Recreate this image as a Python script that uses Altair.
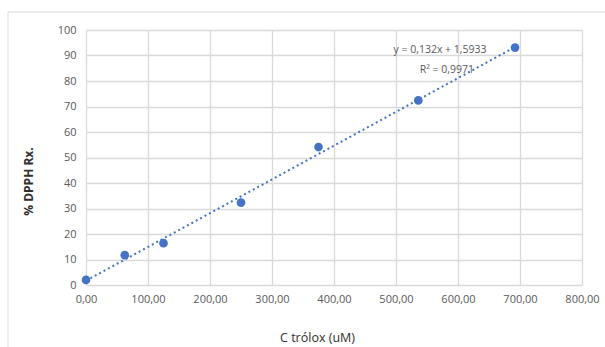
import altair as alt
import pandas as pd

# Data
c_trolox = [0.0, 62.5, 125.0, 250.0, 375.0, 536.0, 692.0]
dpph = [2.0, 11.7, 16.4, 32.3, 54.1, 72.4, 93.1]

eq_lines = ["y = 0,132x + 1,5933", "R² = 0,9971"]
eq_x = [571, 582]
eq_y = [92.3, 84.4]

df = pd.DataFrame({"x": c_trolox, "y": dpph})
ann = pd.DataFrame({"t": eq_lines, "x": eq_x, "y": eq_y})

FONT = "Open Sans"
BLUE = "#4472C4"

xscale = alt.Scale(domain=[0, 800], nice=False, zero=True)
yscale = alt.Scale(domain=[0, 100], nice=False)

xaxis = alt.Axis(
    values=[0, 100, 200, 300, 400, 500, 600, 700, 800],
    labelExpr="replace(format(datum.value, '.2f'), '.', ',')",
    title="C trólox (uM)",
    grid=True, gridColor="#d9d9d9", gridWidth=1.3,
    domain=False, ticks=False, labelFlush=False, labelOverlap=False,
    labelColor="#595959", labelFont=FONT, labelFontSize=11, labelPadding=8,
    titleColor="#303030", titleFont=FONT, titleFontSize=12.5, titleFontWeight="normal",
    titleX=231, titleY=52, titleBaseline="middle", titleAlign="center",
)
yaxis = alt.Axis(
    values=[0, 10, 20, 30, 40, 50, 60, 70, 80, 90, 100],
    title="% DPPH Rx.",
    grid=True, gridColor="#d9d9d9", gridWidth=1.3,
    domain=False, ticks=False, labelFlush=False, labelOverlap=False,
    labelColor="#595959", labelFont=FONT, labelFontSize=11, labelPadding=10,
    titleColor="#303030", titleFont=FONT, titleFontSize=12, titleFontWeight="bold",
    titleX=-58, titleY=151, titleBaseline="middle", titleAlign="center", titleAngle=270,
)

border = alt.Chart(pd.DataFrame({"a": [0]})).mark_rect(
    fillOpacity=0, stroke="#d9d9d9", strokeWidth=1
).encode(
    x=alt.value(-78), x2=alt.value(540), y=alt.value(-18), y2=alt.value(340)
)

base = alt.Chart(df)

trend = base.transform_regression("x", "y", method="linear").mark_line(
    color=BLUE, strokeWidth=2, strokeDash=[2, 3]
).encode(
    x=alt.X("x:Q", scale=xscale, axis=xaxis),
    y=alt.Y("y:Q", scale=yscale, axis=yaxis),
)

points = base.mark_circle(size=75, color=BLUE, opacity=1).encode(
    x=alt.X("x:Q", scale=xscale, axis=xaxis),
    y=alt.Y("y:Q", scale=yscale, axis=yaxis),
)

text = alt.Chart(ann).mark_text(
    font=FONT, fontSize=10.5, color="#595959", align="center", baseline="middle"
).encode(
    x=alt.X("x:Q", scale=xscale, axis=xaxis),
    y=alt.Y("y:Q", scale=yscale, axis=yaxis),
    text="t:N",
)

chart = alt.layer(border, trend, points, text).properties(
    width=496, height=255,
    autosize=alt.AutoSizeParams(type="none"),
    padding={"left": 86, "top": 30, "right": 23, "bottom": 62},
).configure_view(strokeWidth=0)

chart.save("out.html", embed_options={"renderer": "svg", "actions": False})
